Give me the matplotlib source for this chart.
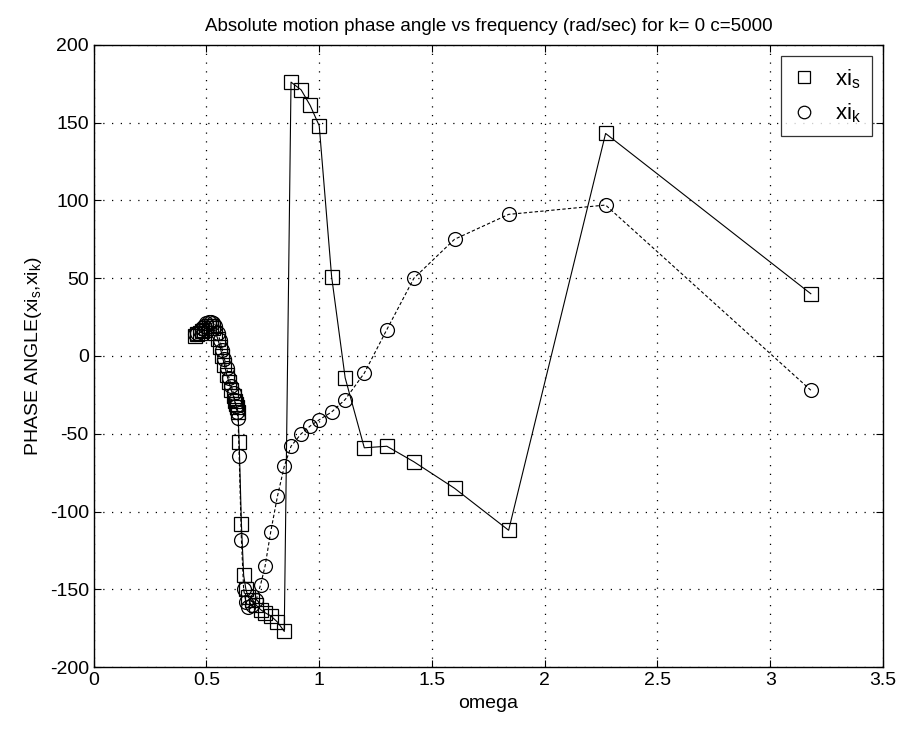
import matplotlib
matplotlib.use("Agg")
import matplotlib.pyplot as plt

plt.rcParams["font.family"] = ["Liberation Sans", "DejaVu Sans"]
plt.rcParams["mathtext.fontset"] = "custom"
plt.rcParams["mathtext.rm"] = "Liberation Sans"
plt.rcParams["mathtext.it"] = "Liberation Sans"
plt.rcParams["axes.unicode_minus"] = False

# frequency (rad/sec)
omega = [
    0.45, 0.46, 0.47, 0.48, 0.49, 0.50, 0.51, 0.52, 0.53, 0.54,
    0.55, 0.56, 0.57, 0.58, 0.59, 0.60, 0.61, 0.62, 0.625, 0.63,
    0.635, 0.64, 0.645, 0.655, 0.665, 0.675, 0.685, 0.70, 0.72, 0.74,
    0.76, 0.785, 0.815, 0.845, 0.875, 0.92, 0.96, 1.0, 1.055, 1.115,
    1.2, 1.3, 1.42, 1.6, 1.84, 2.27, 3.18,
]

# phase angle of xi_s (degrees)
xi_s = [
    13, 14, 15, 16, 17, 18, 19, 19, 18, 15,
    11, 6, 0, -6, -12, -17, -22, -26, -29, -31,
    -33, -36, -55, -108, -141, -150, -155, -157, -160, -163,
    -165, -167, -171, -177, 176, 171, 161, 148, 51, -14,
    -59, -58, -68, -85, -112, 143, 40,
]

# phase angle of xi_k (degrees)
xi_k = [
    14, 15, 16, 18, 19, 21, 22, 22, 21, 19,
    15, 10, 4, -2, -8, -14, -19, -24, -28, -32,
    -36, -40, -64, -118, -150, -158, -161, -160, -157, -147,
    -135, -113, -90, -71, -58, -50, -45, -41, -36, -28,
    -11, 17, 50, 75, 91, 97, -22,
]

fig = plt.figure(figsize=(9.01, 7.34), dpi=100)
ax = fig.add_axes([0.104, 0.091, 0.876, 0.848])

ax.plot(omega, xi_s, "-", color="k", lw=0.8, marker="s", markersize=10,
        markerfacecolor="none", markeredgecolor="k", markeredgewidth=0.9,
        label="xi$_s$")
ax.plot(omega, xi_k, color="k", lw=0.8, linestyle=(0, (3, 2)), marker="o",
        markersize=10, markerfacecolor="none", markeredgecolor="k",
        markeredgewidth=0.9, label="xi$_k$")

ax.set_xlim(0, 3.5)
ax.set_ylim(-200, 200)
ax.set_xticks([0, 0.5, 1, 1.5, 2, 2.5, 3, 3.5])
ax.set_xticklabels(["0", "0.5", "1", "1.5", "2", "2.5", "3", "3.5"])
ax.set_yticks(range(-200, 201, 50))
ax.grid(True, color="k", linestyle=(0, (1, 6)), lw=0.9)
ax.tick_params(direction="in", length=5, labelsize=14, top=True, right=True)
for s in ax.spines.values():
    s.set_linewidth(1.0)

ax.set_title("Absolute motion phase angle vs frequency (rad/sec) for k= 0 c=5000",
             fontsize=13.5, pad=10)
ax.set_xlabel("omega", fontsize=14)
ax.set_ylabel("PHASE ANGLE(xi$_s$,xi$_k$)", fontsize=14)

leg = ax.legend(loc="upper right", fontsize=16, frameon=True, fancybox=False,
                edgecolor="k", handlelength=1.0, borderpad=0.5,
                labelspacing=0.5, handletextpad=0.9)
for h in leg.legend_handles:
    h.set_linestyle("none")
    h.set_markersize(9)
leg.get_frame().set_linewidth(0.9)

fig.savefig("out.png", dpi=100)
